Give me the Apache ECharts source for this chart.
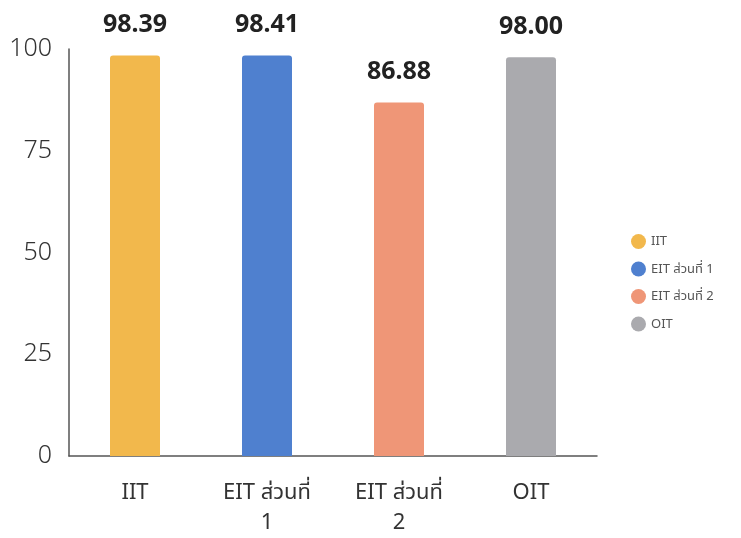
<!DOCTYPE html>
<html><head><meta charset="utf-8">
<script src="https://cdn.jsdelivr.net/npm/echarts@6/dist/echarts.min.js"></script>
<style>html,body{margin:0;padding:0;background:#fff}#c{width:741px;height:538px}</style>
</head><body><div id="c"></div>
<script>
const categories = ['IIT', 'EIT ส่วนที่\n1', 'EIT ส่วนที่\n2', 'OIT'];
const seriesNames = ['IIT', 'EIT ส่วนที่ 1', 'EIT ส่วนที่ 2', 'OIT'];
const values = [98.39, 98.41, 86.88, 98.00];
const colors = ['#f2b84c', '#4f80cf', '#ef9677', '#aaaaae'];
const yTicks = { min: 0, max: 100, interval: 25 };

const font = '"Noto Sans", "Noto Sans Thai", sans-serif';
const series = seriesNames.map((name, i) => ({
  name,
  type: 'bar',
  stack: 'all',
  barWidth: 50,
  data: values.map((v, j) => (j === i ? v : null)),
  itemStyle: { color: colors[i], borderRadius: [3, 3, 0, 0] },
  label: {
    show: true, position: 'top', distance: 18,
    formatter: p => p.value.toFixed(2),
    fontSize: 25, fontWeight: 'bold', color: '#222', fontFamily: font
  }
}));

const chart = echarts.init(document.getElementById('c'));
chart.setOption({
  animation: false,
  textStyle: { fontFamily: font },
  grid: { left: 69, right: 144, top: 49, bottom: 80, containLabel: false },
  legend: {
    orient: 'vertical', left: 626, top: 229, itemGap: 12.5,
    icon: 'circle', itemWidth: 15, itemHeight: 15,
    textStyle: { fontSize: 13, color: '#555', fontFamily: font },
    data: seriesNames
  },
  xAxis: {
    type: 'category', data: categories,
    axisLine: { lineStyle: { color: '#555', width: 1.5 } },
    axisTick: { show: false },
    axisLabel: { fontSize: 22, color: '#333', margin: 22, lineHeight: 30, interval: 0, fontFamily: font }
  },
  yAxis: {
    type: 'value', min: yTicks.min, max: yTicks.max, interval: yTicks.interval,
    axisLine: { show: true, lineStyle: { color: '#555', width: 1.5 } },
    axisTick: { show: false },
    splitLine: { show: false },
    axisLabel: { fontSize: 25, color: '#333', margin: 17, fontFamily: font, fontWeight: 300 }
  },
  series
});
</script></body></html>
